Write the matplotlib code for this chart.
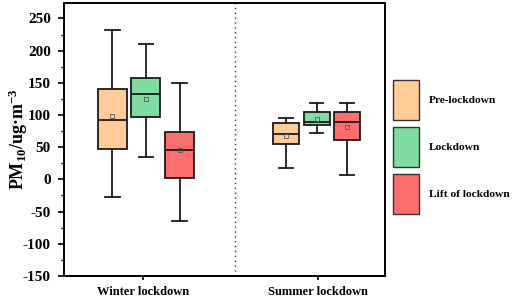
import matplotlib
matplotlib.use("Agg")
import matplotlib.pyplot as plt
from matplotlib.patches import Patch
from matplotlib.ticker import MultipleLocator

plt.rcParams['font.family'] = ['Liberation Serif', 'DejaVu Serif']
plt.rcParams['font.weight'] = 'bold'
plt.rcParams['mathtext.default'] = 'regular'
plt.rcParams['axes.unicode_minus'] = False

# data
seasons = ["Winter lockdown", "Summer lockdown"]
periods = ["Pre-lockdown", "Lockdown", "Lift of lockdown"]
whislo = [[-27, 35, -64], [17, 72, 7]]
q1 = [[47, 97, 2], [55, 85, 61]]
med = [[92, 132, 45], [70, 89, 89]]
q3 = [[141, 157, 74], [87, 105, 104]]
whishi = [[232, 210, 150], [96, 118, 119]]
means = [[98, 125, 45], [67, 94, 82]]

colors = ["#FFCC99", "#80DCA0", "#FF6E6E"]

fig = plt.figure(figsize=(5.12, 2.97), dpi=100)
ax = fig.add_axes([0.125, 0.071, 0.627, 0.919])

offsets = [[-0.175, 0.017, 0.209], [-0.183, -0.006, 0.166]]
widths = [0.165, 0.15]

for i in range(len(seasons)):
    for j in range(len(periods)):
        st = dict(whislo=whislo[i][j], q1=q1[i][j], med=med[i][j],
                  q3=q3[i][j], whishi=whishi[i][j], mean=means[i][j], fliers=[])
        ax.bxp([st], positions=[i + 1 + offsets[i][j]], widths=widths[i],
               patch_artist=True, showmeans=True,
               boxprops=dict(facecolor=colors[j], edgecolor="#1a1a1a", linewidth=1.3),
               medianprops=dict(color="#1a1a1a", linewidth=1.3),
               whiskerprops=dict(color="#1a1a1a", linewidth=1.3),
               capprops=dict(color="#1a1a1a", linewidth=1.3),
               meanprops=dict(marker="s", markersize=2.5, markerfacecolor="none",
                              markeredgecolor="#555555", markeredgewidth=0.6))

ax.axvline(1.526, color="#333333", linestyle=(0, (1, 2.5)), linewidth=1.0)

ax.set_xlim(0.549, 2.383)
ax.set_ylim(-150, 274)
ax.set_xticks([1, 2])
ax.set_xticklabels(seasons, fontsize=9, fontweight="bold")
ax.yaxis.set_major_locator(MultipleLocator(50))
ax.yaxis.set_minor_locator(MultipleLocator(25))
ax.tick_params(axis="y", which="major", direction="out", length=4.5, width=1.2, labelsize=11, pad=5)
ax.tick_params(axis="y", which="minor", direction="out", length=2.5, width=1.0)
ax.tick_params(axis="x", direction="out", length=3, width=1.2, pad=4)
for lab in ax.get_yticklabels():
    lab.set_fontweight("bold")
for sp in ax.spines.values():
    sp.set_linewidth(1.4)

ax.set_ylabel("PM$_{10}$/ug·m$^{-3}$", fontsize=13, fontweight="bold")
ax.yaxis.set_label_coords(-0.106, 0.5)

handles = [Patch(facecolor=c, edgecolor="#333333", linewidth=1.0) for c in colors]
fig.legend(handles, periods, loc="center left", bbox_to_anchor=(0.768, 0.505),
           frameon=False, handlelength=2.3, handleheight=5.0, borderpad=0, borderaxespad=0,
           labelspacing=0.62, handletextpad=0.85, prop=dict(weight="bold", size=8.2))

fig.savefig("out.png", dpi=100)
